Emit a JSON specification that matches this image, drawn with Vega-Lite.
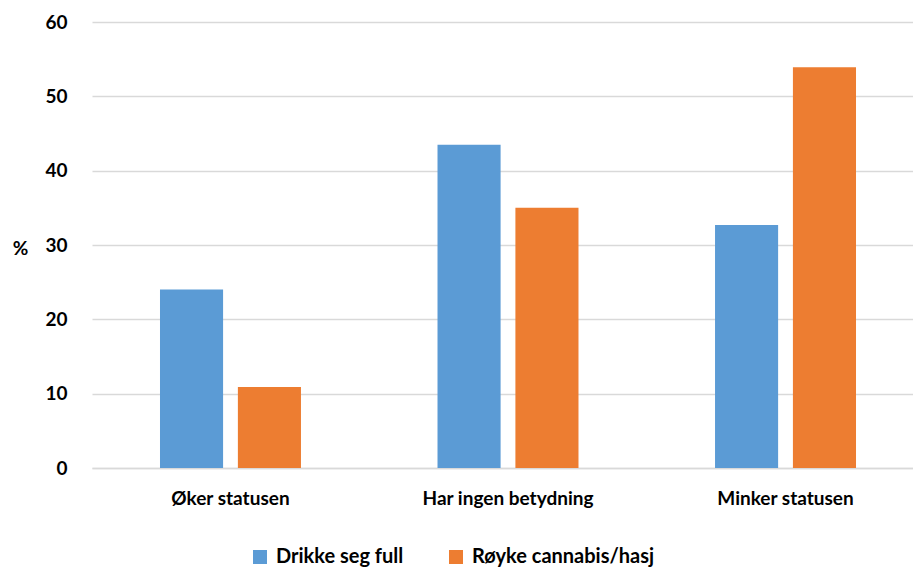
{
  "$schema": "https://vega.github.io/schema/vega-lite/v6.json",
  "autosize": "none",
  "width": 832,
  "height": 446,
  "padding": {"left": 92, "top": 22, "right": 0, "bottom": 100},
  "background": "white",
  "config": {
    "view": {"stroke": null},
    "font": "Lato"
  },
  "data": {
    "values": [
      {"kategori": "Øker statusen", "serie": "Drikke seg full", "verdi": 24.0},
      {"kategori": "Øker statusen", "serie": "Røyke cannabis/hasj", "verdi": 10.9},
      {"kategori": "Har ingen betydning", "serie": "Drikke seg full", "verdi": 43.5},
      {"kategori": "Har ingen betydning", "serie": "Røyke cannabis/hasj", "verdi": 35.0},
      {"kategori": "Minker statusen", "serie": "Drikke seg full", "verdi": 32.7},
      {"kategori": "Minker statusen", "serie": "Røyke cannabis/hasj", "verdi": 53.9}
    ]
  },
  "mark": {"type": "bar"},
  "encoding": {
    "x": {
      "field": "kategori",
      "type": "nominal",
      "sort": ["Øker statusen", "Har ingen betydning", "Minker statusen"],
      "scale": {"paddingInner": 0.492, "paddingOuter": 0.245},
      "axis": {
        "title": null,
        "labelAngle": 0,
        "labelFont": "Lato",
        "labelFontWeight": "bold",
        "labelFontSize": 19,
        "labelColor": "#000000",
        "labelPadding": 21,
        "labelLimit": 300,
        "ticks": false,
        "domainColor": "#d9d9d9",
        "domainWidth": 1.5
      }
    },
    "xOffset": {
      "field": "serie",
      "type": "nominal",
      "scale": {"paddingInner": 0.19, "paddingOuter": 0}
    },
    "y": {
      "field": "verdi",
      "type": "quantitative",
      "scale": {"domain": [0, 60], "nice": false},
      "axis": {
        "values": [0, 10, 20, 30, 40, 50, 60],
        "title": "%",
        "titleAngle": 0,
        "titleFont": "Lato",
        "titleFontWeight": "bold",
        "titleFontSize": 19,
        "titleColor": "#000000",
        "titleAlign": "center",
        "titleBaseline": "middle",
        "titleX": -72,
        "titleY": 226,
        "labelFont": "Lato",
        "labelFontWeight": "bold",
        "labelFontSize": 19,
        "labelColor": "#000000",
        "labelPadding": 25,
        "ticks": false,
        "domain": false,
        "gridColor": "#d9d9d9",
        "gridWidth": 1.5
      }
    },
    "color": {
      "field": "serie",
      "type": "nominal",
      "scale": {
        "domain": ["Drikke seg full", "Røyke cannabis/hasj"],
        "range": ["#5B9BD5", "#ED7D31"]
      },
      "legend": {
        "title": null,
        "orient": "none",
        "legendX": 158,
        "legendY": 525,
        "direction": "horizontal",
        "symbolType": "square",
        "symbolSize": 196,
        "symbolStrokeWidth": 0,
        "labelFont": "Lato",
        "labelFontWeight": "bold",
        "labelFontSize": 20,
        "labelColor": "#000000",
        "labelLimit": 400,
        "columnPadding": 42,
        "labelOffset": 6
      }
    }
  }
}
